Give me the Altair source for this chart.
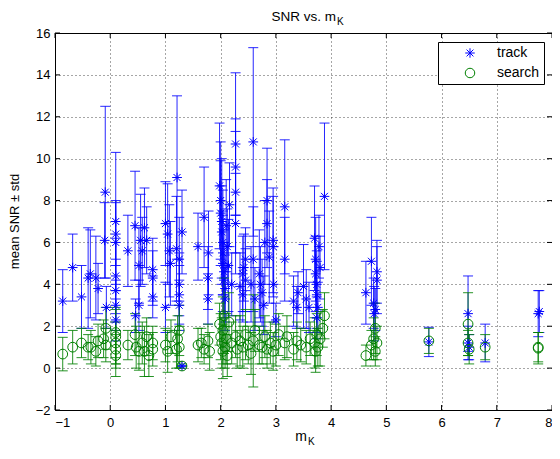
import altair as alt
import pandas as pd

# ---------------- data ----------------
track_x = [-0.86, -0.68, -0.52, -0.40, -0.36, -0.26, -0.22, -0.10, -0.09, -0.07,
           0.10, 0.10, 0.10, 0.10, 0.10, 0.10, 0.10, 0.32, 0.45, 0.52,
           0.55, 0.58, 0.62, 0.66, 0.77, 0.77, 0.77, 0.52, 0.46, 1.00,
           1.00, 1.04, 1.07, 1.09, 1.21, 1.30, 1.20, 1.25, 1.25, 1.25,
           1.25, 1.30, 1.59, 1.70, 1.78, 1.77, 1.77, 1.98, 2.00, 2.00,
           2.02, 2.02, 2.04, 2.04, 2.04, 2.06, 2.06, 2.08, 2.08, 2.10,
           2.12, 2.14, 2.16, 2.27, 2.27, 2.27, 2.27, 2.20, 2.35, 2.40,
           2.42, 2.45, 2.45, 2.40, 2.59, 2.59, 2.55, 2.62, 2.70, 2.72,
           2.75, 2.78, 2.84, 2.84, 2.80, 2.88, 2.95, 2.95, 2.96, 3.00,
           3.16, 3.16, 3.32, 3.38, 3.40, 3.50, 3.55, 3.60, 3.70, 3.72,
           3.72, 3.74, 3.74, 3.76, 3.78, 3.80, 3.88, 3.74, 4.63, 4.73,
           4.77, 4.80, 4.83, 4.83, 4.78, 5.77, 6.48, 6.48, 6.50, 6.79,
           7.75, 7.77]
track_mean = [3.2, 4.8, 3.4, 4.3, 4.5, 4.3, 3.8, 6.1, 8.4, 2.9,
              7.0, 6.4, 6.0, 4.4, 3.7, 3.0, 2.3, 5.6, 6.8, 4.9,
              6.1, 5.6, 6.7, 6.1, 4.7, 4.3, 3.4, 3.0, 2.5, 2.9,
              6.9, 6.4, 5.6, 5.0, 9.1, 6.5, 5.7, 5.2, 4.0, 3.5,
              3.0, 0.1, 5.8, 7.2, 5.5, 3.3, 4.3, 8.7, 8.0, 7.4,
              7.0, 6.5, 6.0, 5.5, 5.0, 4.6, 4.2, 3.8, 3.3, 6.8,
              5.8, 4.9, 7.8, 10.7, 9.6, 8.4, 6.9, 4.0, 3.9, 4.5,
              4.8, 5.2, 4.2, 3.5, 10.8, 5.2, 4.0, 3.3, 4.5, 4.0,
              3.6, 3.0, 8.0, 6.9, 6.0, 5.3, 6.1, 5.8, 4.0, 2.3,
              7.7, 5.2, 3.2, 2.9, 3.6, 3.9, 3.3, 2.9, 6.2, 5.2,
              4.5, 4.0, 3.5, 2.9, 5.8, 4.8, 8.2, 2.4, 3.6, 5.1,
              3.1, 2.8, 4.6, 4.2, 2.6, 1.25, 2.6, 1.2, 1.0, 1.2,
              2.6, 2.7]
track_std = [1.5, 1.6, 1.5, 2.4, 2.1, 2.0, 1.2, 1.8, 4.1, 1.0,
             3.3, 1.5, 2.0, 1.8, 1.5, 1.2, 1.0, 1.7, 2.6, 1.8,
             2.2, 1.6, 1.9, 1.6, 1.5, 1.3, 1.0, 1.2, 0.8, 1.2,
             2.0, 2.4, 2.2, 2.0, 3.9, 2.0, 2.5, 2.0, 1.5, 1.4,
             1.2, 0.0, 1.6, 2.4, 2.0, 1.2, 1.5, 3.0, 2.8, 2.5,
             3.0, 2.2, 2.5, 2.0, 2.3, 2.0, 1.8, 1.6, 1.5, 2.2,
             1.8, 2.2, 2.0, 3.4, 2.3, 2.9, 2.4, 1.5, 1.6, 1.8,
             1.6, 1.5, 1.5, 1.3, 4.5, 2.5, 1.8, 1.5, 2.1, 1.8,
             1.6, 1.4, 2.5, 2.1, 2.0, 2.2, 2.5, 2.4, 1.8, 0.8,
             3.2, 2.0, 1.2, 1.0, 1.0, 2.0, 1.4, 1.2, 2.5, 2.0,
             1.8, 1.6, 1.6, 1.2, 1.5, 1.5, 3.5, 1.0, 1.5, 2.1,
             1.2, 1.0, 1.5, 1.6, 1.3, 0.7, 1.8, 0.8, 0.6, 0.9,
             1.1, 1.0]

search_x = [-0.86, -0.68, -0.52, -0.40, -0.35, -0.26, -0.22, -0.12, -0.08, -0.08,
            0.10, 0.10, 0.10, 0.10, 0.10, 0.32, 0.45, 0.47, 0.52, 0.58,
            0.62, 0.66, 0.70, 0.77, 0.77, 1.00, 1.04, 1.10, 1.20, 1.22,
            1.25, 1.30, 1.25, 1.59, 1.65, 1.70, 1.77, 1.80, 1.98, 2.00,
            2.02, 2.04, 2.04, 2.06, 2.08, 2.10, 2.12, 2.15, 2.20, 2.27,
            2.30, 2.35, 2.40, 2.45, 2.50, 2.55, 2.59, 2.62, 2.70, 2.75,
            2.80, 2.84, 2.90, 2.95, 3.00, 3.05, 3.16, 3.20, 3.32, 3.38,
            3.45, 3.55, 3.62, 3.70, 3.72, 3.74, 3.76, 3.80, 3.88, 3.85,
            4.63, 4.73, 4.77, 4.80, 4.83, 4.80, 5.77, 6.48, 6.48, 6.50,
            6.79, 7.75, 7.75]
search_mean = [0.67, 1.0, 1.2, 1.0, 1.0, 0.8, 1.3, 1.4, 1.9, 1.1,
               1.7, 1.2, 0.9, 0.6, 1.5, 1.1, 1.6, 1.0, 0.8, 1.2,
               0.8, 1.5, 0.6, 0.9, 1.2, 1.1, 0.8, 1.5, 0.9, 1.4,
               1.0, 0.1, 1.8, 1.1, 1.2, 0.9, 1.3, 0.8, 2.1, 1.5,
               1.2, 0.8, 1.8, 2.5, 1.0, 1.4, 0.6, 2.2, 1.2, 1.5,
               0.9, 1.3, 1.0, 1.6, 1.1, 0.7, 1.3, 1.8, 1.1, 1.0,
               1.5, 0.9, 1.2, 0.8, 1.1, 1.6, 1.2, 1.5, 0.9, 1.3,
               1.1, 1.0, 1.4, 1.2, 0.8, 1.6, 1.0, 1.4, 2.5, 1.9,
               0.6, 1.1, 1.4, 1.9, 1.2, 0.8, 1.3, 2.1, 1.2, 0.9,
               1.0, 0.95, 1.0]
search_std = [0.8, 0.8, 0.7, 0.6, 0.8, 0.7, 0.8, 0.9, 1.0, 0.8,
              1.2, 1.0, 0.9, 1.0, 1.3, 0.7, 1.0, 1.0, 0.9, 1.0,
              1.2, 0.9, 1.0, 0.8, 0.8, 0.8, 1.0, 0.8, 0.9, 1.1,
              1.0, 0.1, 1.2, 0.8, 0.7, 0.7, 0.8, 0.9, 1.0, 1.1,
              1.2, 1.3, 1.6, 1.8, 1.0, 1.2, 1.0, 1.4, 1.0, 1.0,
              0.9, 1.2, 1.0, 1.2, 0.9, 1.0, 2.2, 1.0, 0.9, 0.8,
              1.0, 0.9, 1.0, 0.9, 1.0, 1.0, 0.8, 1.0, 0.8, 0.9,
              0.8, 0.8, 0.8, 1.2, 1.0, 1.0, 0.9, 1.3, 1.1, 0.9,
              0.5, 0.7, 1.0, 1.2, 0.8, 0.7, 0.6, 1.5, 0.6, 0.7,
              0.6, 0.75, 0.7]

x_ticks = [-1, 0, 1, 2, 3, 4, 5, 6, 7, 8]
y_ticks = [-2, 0, 2, 4, 6, 8, 10, 12, 14, 16]
series_names = ["track", "search"]

# ---------------- tables ----------------
track = pd.DataFrame({"x": track_x, "m": track_mean, "s": track_std})
track["series"] = "track"
search = pd.DataFrame({"x": search_x, "m": search_mean, "s": search_std})
search["series"] = "search"
for d in (track, search):
    d["lo"] = d["m"] - d["s"]
    d["hi"] = d["m"] + d["s"]
points = pd.concat([track, search], ignore_index=True)

W, H = 497, 377
FONT = "Liberation Sans"
BLUE = "#0000ff"
GREEN = "#008000"
ASTERISK = "M-1,0L1,0M0,-1L0,1M-0.72,-0.72L0.72,0.72M-0.72,0.72L0.72,-0.72"

xs = alt.Scale(domain=[-1, 8], nice=False, zero=False)
ys = alt.Scale(domain=[-2, 16], nice=False, zero=False)
xax = alt.Axis(values=x_ticks, format="d", grid=True, title=None, domain=False, ticks=False,
               labelFont=FONT, labelFontSize=13, labelColor="black", labelPadding=6,
               gridColor="#000000", gridDash=[1, 3], gridOpacity=0.7)
yax = alt.Axis(values=y_ticks, format="d", grid=True, title=None, domain=False, ticks=False,
               labelFont=FONT, labelFontSize=13, labelColor="black", labelPadding=5,
               gridColor="#000000", gridDash=[1, 3], gridOpacity=0.7)


def bars(df, color):
    base = alt.Chart(df)
    rule = base.mark_rule(color=color, strokeWidth=1, opacity=0.85).encode(
        x=alt.X("x:Q", scale=xs, axis=xax), y=alt.Y("lo:Q", scale=ys, axis=yax), y2="hi:Q")
    cap_lo = base.mark_tick(color=color, orient="horizontal", size=10, thickness=1, opacity=0.85).encode(
        x=alt.X("x:Q", scale=xs), y=alt.Y("lo:Q", scale=ys))
    cap_hi = base.mark_tick(color=color, orient="horizontal", size=10, thickness=1, opacity=0.85).encode(
        x=alt.X("x:Q", scale=xs), y=alt.Y("hi:Q", scale=ys))
    return [rule, cap_lo, cap_hi]


leg = alt.Legend(title=None, orient="none", legendX=383, legendY=9)
pts = alt.Chart(points).mark_point(filled=False, strokeWidth=1, size=95, opacity=1).encode(
    x=alt.X("x:Q", scale=xs),
    y=alt.Y("m:Q", scale=ys),
    color=alt.Color("series:N", scale=alt.Scale(domain=series_names, range=[BLUE, GREEN]), legend=leg),
    shape=alt.Shape("series:N", scale=alt.Scale(domain=series_names, range=[ASTERISK, "circle"]), legend=leg),
)

# inward tick marks on all four sides
xt = pd.DataFrame({"v": x_ticks})
yt = pd.DataFrame({"v": y_ticks})
tick_layers = [
    alt.Chart(xt).mark_rule(color="black").encode(x=alt.X("v:Q", scale=xs), y=alt.value(H), y2=alt.value(H - 5)),
    alt.Chart(xt).mark_rule(color="black").encode(x=alt.X("v:Q", scale=xs), y=alt.value(0), y2=alt.value(5)),
    alt.Chart(yt).mark_rule(color="black").encode(y=alt.Y("v:Q", scale=ys), x=alt.value(0), x2=alt.value(5)),
    alt.Chart(yt).mark_rule(color="black").encode(y=alt.Y("v:Q", scale=ys), x=alt.value(W), x2=alt.value(W - 5)),
]

txt = pd.DataFrame({"t": ["SNR vs. m", "K", "m", "K", "mean SNR \u00b1 std"],
                    "k": [0, 1, 2, 3, 4]})


def label(i, x, y, size, align, angle=0):
    return alt.Chart(txt).transform_filter(alt.datum.k == i).mark_text(
        font=FONT, fontSize=size, align=align, baseline="alphabetic", color="black", angle=angle
    ).encode(text="t:N", x=alt.value(x), y=alt.value(y))


texts = [
    label(0, 281, -12.5, 13.5, "right"),
    label(1, 282, -8.5, 10, "left"),
    label(2, 252, 408, 14, "right"),
    label(3, 253, 412, 10, "left"),
    label(4, -36, H / 2, 13, "center", angle=270),
]

chart = alt.layer(
    *bars(track, BLUE), *bars(search, GREEN), pts, *tick_layers, *texts
).properties(
    width=W, height=H,
    autosize=alt.AutoSizeParams(type="none"),
    padding={"left": 47, "top": 25, "right": 0, "bottom": 38},
).configure_view(
    stroke="black", strokeWidth=1
).configure_legend(
    strokeColor="black", fillColor="white", padding=4, labelFont=FONT, labelFontSize=14,
    labelColor="black", labelOffset=20, rowPadding=6, symbolSize=90, symbolStrokeWidth=1,
    symbolOffset=21, cornerRadius=0
).configure_tick(bandSize=10)

chart.save("out.html", embed_options={"renderer": "svg", "actions": False})
